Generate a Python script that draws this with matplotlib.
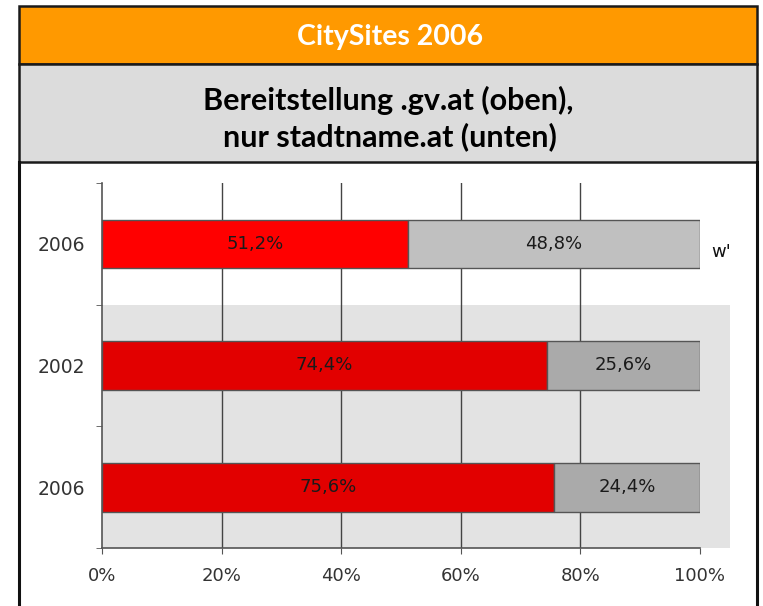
import matplotlib
matplotlib.use("Agg")
import matplotlib.pyplot as plt
from matplotlib.patches import Rectangle
from matplotlib.lines import Line2D

# data
years = ["2006", "2002", "2006"]
share_red = [51.2, 74.4, 75.6]
share_grey = [48.8, 25.6, 24.4]
red_labels = ["51,2%", "74,4%", "75,6%"]
grey_labels = ["48,8%", "25,6%", "24,4%"]
x_ticks = [0, 20, 40, 60, 80, 100]
x_ticklabels = ["0%", "20%", "40%", "60%", "80%", "100%"]

red_cols = ["#ff0000", "#e20000", "#e20000"]
grey_cols = ["#c0c0c0", "#aaaaaa", "#aaaaaa"]

W, H = 763, 606
fig = plt.figure(figsize=(W / 100, H / 100), dpi=100)


def fx(px):
    return px / W


def fy(py):
    return 1 - py / H


def band(x0, y0, x1, y1, color):
    fig.patches.append(Rectangle((fx(x0), fy(y1)), fx(x1) - fx(x0), fy(y0) - fy(y1),
                                 transform=fig.transFigure, facecolor=color,
                                 edgecolor="#1a1a1a", lw=1.8, zorder=1))


# header bands
band(19, 6, 757, 64, "#ff9900")
band(19, 64, 757, 162, "#dcdcdc")
for xx in (19, 757):
    fig.lines.append(Line2D([fx(xx), fx(xx)], [fy(162), fy(610)], transform=fig.transFigure,
                            color="#111111", lw=2.2, zorder=2))

fig.text(fx(390), fy(37), "CitySites 2006", color="white", fontsize=20.5, fontweight="bold",
         family="Lato", ha="center", va="center")
fig.text(fx(388), fy(100), "Bereitstellung .gv.at (oben),", color="black", fontsize=22,
         fontweight="bold", family="Lato", ha="center", va="center")
fig.text(fx(390), fy(137), "nur stadtname.at (unten)", color="black", fontsize=22,
         fontweight="bold", family="Lato", ha="center", va="center")

# chart
ax = fig.add_axes([fx(102), fy(548), fx(700) - fx(102), fy(183) - fy(548)])
ax.set_facecolor("none")
ax.set_xlim(0, 100)
ax.set_ylim(2.5, -0.5)

# shaded block behind the lower two rows
ax.add_patch(Rectangle((0, 0.5), 105, 2.0, facecolor="#e3e3e3", edgecolor="none",
                       clip_on=False, zorder=0.1))

ypos = list(range(len(years)))
ax.barh(ypos, share_red, height=0.4, color=red_cols, edgecolor="#555555", lw=1, zorder=3)
ax.barh(ypos, share_grey, left=share_red, height=0.4, color=grey_cols,
        edgecolor="#555555", lw=1, zorder=3)

for i in ypos:
    ax.text(share_red[i] / 2, i, red_labels[i], ha="center", va="center",
            fontsize=13, color="#1a1a1a", zorder=4)
    ax.text(share_red[i] + share_grey[i] / 2, i, grey_labels[i], ha="center", va="center",
            fontsize=13, color="#1a1a1a", zorder=4)

ax.set_xticks(x_ticks)
ax.set_xticklabels(x_ticklabels, fontsize=13, color="#333333")
ax.set_yticks(ypos)
ax.set_yticklabels(years, fontsize=13.5, color="#333333")
ax.set_yticks([-0.5, 0.5, 1.5, 2.5], minor=True)
ax.tick_params(axis="y", which="major", length=0, pad=12)
ax.tick_params(axis="y", which="minor", length=4, color="#555555")
ax.tick_params(axis="x", length=4, color="#555555", pad=10)

for gx in x_ticks[1:-1]:
    ax.axvline(gx, color="#444444", lw=1, zorder=0.5)

for s in ("top", "right"):
    ax.spines[s].set_visible(False)
ax.spines["left"].set_color("#555555")
ax.spines["bottom"].set_color("#555555")
ax.spines["left"].set_linewidth(1.2)
ax.spines["bottom"].set_linewidth(1.2)

# clipped legend remnant at the right
fig.text(fx(711), fy(252), "w'", fontsize=13, color="#111111", ha="left", va="center")

fig.savefig("out.png", dpi=100)
